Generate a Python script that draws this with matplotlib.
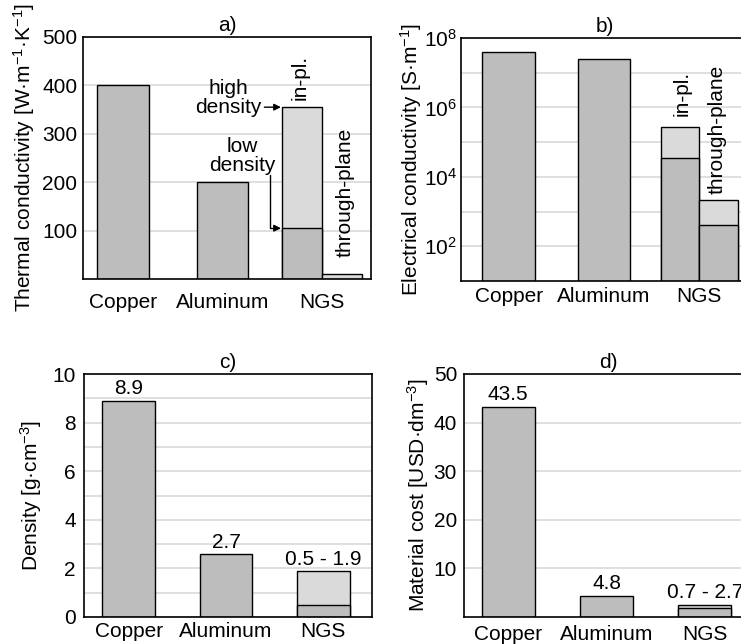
import matplotlib
matplotlib.use("Agg")
import matplotlib.pyplot as plt
from matplotlib.ticker import FixedLocator, NullFormatter

plt.rcParams["font.family"] = ["Liberation Sans", "DejaVu Sans"]
plt.rcParams["font.size"] = 15
plt.rcParams["mathtext.fontset"] = "custom"
plt.rcParams["mathtext.rm"] = "Liberation Sans"
plt.rcParams["mathtext.it"] = "Liberation Sans:italic"
plt.rcParams["mathtext.bf"] = "Liberation Sans:bold"

materials = ["Copper", "Aluminum", "NGS"]

# a) thermal conductivity [W/mK]
thermal_metals = [400, 200]
thermal_inpl = [105, 355]  # low density, high density
thermal_tp = 10

# b) electrical conductivity [S/m]
elec_metals = [4.0e7, 2.5e7]
elec_inpl = [3.6e4, 2.8e5]
elec_tp = [420, 2.1e3]

# c) density [g/cm3]
density_metals = [8.9, 2.6]
density_ngs = [0.5, 1.9]
density_labels = ["8.9", "2.7", "0.5 - 1.9"]

# d) material cost [USD/dm3]
cost_metals = [43.2, 4.4]
cost_ngs = [1.8, 2.4]
cost_labels = ["43.5", "4.8", "0.7 - 2.7"]

DARK = "#bdbdbd"
LIGHT = "#dadada"
GRID = "#d6d6d6"
W, H = 741, 644

fig = plt.figure(figsize=(W / 100, H / 100), dpi=100)


def px_axes(left, right, top, bottom):
    return fig.add_axes([left / W, (H - bottom) / H, (right - left) / W, (bottom - top) / H])


def style(ax, title, xpad, ypad):
    for s in ax.spines.values():
        s.set_linewidth(1.2)
    ax.set_axisbelow(True)
    ax.grid(axis="y", which="both", color=GRID, linewidth=1.1)
    ax.tick_params(axis="both", which="both", length=0)
    ax.tick_params(axis="x", pad=xpad)
    ax.tick_params(axis="y", pad=ypad)
    ax.set_xticks(range(3))
    ax.set_xticklabels(materials)
    ax.set_title(title, fontsize=15, pad=4)


bar_kw = dict(edgecolor="black", linewidth=1.0)
arrow_kw = dict(arrowstyle="-|>", color="black", lw=1.0, mutation_scale=10,
                shrinkA=0, shrinkB=1)

# ---- a) ----
ax = px_axes(83, 371, 37, 279)
w = 0.52
ax.bar([0, 1], thermal_metals, width=w, color=DARK, **bar_kw)
ax.bar(1.8, thermal_inpl[1], width=0.4, color=LIGHT, **bar_kw)
ax.bar(1.8, thermal_inpl[0], width=0.4, color=DARK, **bar_kw)
ax.bar(2.2, thermal_tp, width=0.4, color=LIGHT, **bar_kw)
ax.set_xlim(-0.40, 2.49)
ax.set_ylim(0, 500)
ax.set_yticks([100, 200, 300, 400, 500])
style(ax, "a)", 10, 4)
ax.set_ylabel("Thermal conductivity [W·m$^{-1}$·K$^{-1}$]", labelpad=4)
ax.text(1.78, 370, "in-pl.", rotation=90, ha="center", va="bottom")
ax.text(2.23, 45, "through-plane", rotation=90, ha="center", va="bottom")
ax.text(1.06, 374, "high\ndensity", ha="center", va="center", linespacing=0.95)
ax.annotate("", xy=(1.6, thermal_inpl[1]), xytext=(1.42, thermal_inpl[1]),
            arrowprops=arrow_kw)
ax.text(1.2, 254, "low\ndensity", ha="center", va="center", linespacing=0.95)
ax.annotate("", xy=(1.6, thermal_inpl[0]), xytext=(1.48, 215),
            arrowprops=dict(arrow_kw, connectionstyle="angle,angleA=90,angleB=0,rad=0"))

# ---- b) ----
ax = px_axes(461, 749, 38, 281)
ax.set_yscale("log")
w = 0.55
ax.bar([0, 1], elec_metals, width=w, bottom=1, color=DARK, **bar_kw)
ax.bar(1.8, elec_inpl[1], width=0.4, bottom=1, color=LIGHT, **bar_kw)
ax.bar(1.8, elec_inpl[0], width=0.4, bottom=1, color=DARK, **bar_kw)
ax.bar(2.2, elec_tp[1], width=0.4, bottom=1, color=LIGHT, **bar_kw)
ax.bar(2.2, elec_tp[0], width=0.4, bottom=1, color=DARK, **bar_kw)
ax.set_xlim(-0.50, 2.52)
ax.set_ylim(10, 1e8)
ax.yaxis.set_major_locator(FixedLocator([1e2, 1e4, 1e6, 1e8]))
ax.set_yticklabels(["$10^2$", "$10^4$", "$10^6$", "$10^8$"])
ax.yaxis.set_minor_locator(FixedLocator([1e3, 1e5, 1e7]))
ax.yaxis.set_minor_formatter(NullFormatter())
style(ax, "b)", 4, 3)
ax.set_ylabel("Electrical conductivity [S·m$^{-1}$]", labelpad=0)
ax.text(1.82, 5.6e5, "in-pl.", rotation=90, ha="center", va="bottom")
ax.text(2.19, 3.2e3, "through-plane", rotation=90, ha="center", va="bottom")

# ---- c) ----
ax = px_axes(84, 372, 374, 617)
w = 0.54
ax.bar([0, 1], density_metals, width=w, color=DARK, **bar_kw)
ax.bar(2, density_ngs[1], width=0.55, color=LIGHT, **bar_kw)
ax.bar(2, density_ngs[0], width=0.55, color=DARK, **bar_kw)
ax.set_xlim(-0.46, 2.50)
ax.set_ylim(0, 10)
ax.set_yticks(range(0, 11, 2))
ax.yaxis.set_minor_locator(FixedLocator([1, 3, 5, 7, 9]))
style(ax, "c)", 3.5, 6)
ax.set_ylabel("Density [g·cm$^{-3}$]", labelpad=6)
tops = density_metals + [density_ngs[1]]
for i, (t, lab) in enumerate(zip(tops, density_labels)):
    ax.annotate(lab, (i, t), xytext=(0, 4.5), textcoords="offset points",
                ha="center", va="baseline")

# ---- d) ----
ax = px_axes(464, 752, 374, 617)
ax.bar([0, 1], cost_metals, width=w, color=DARK, **bar_kw)
ax.bar(2, cost_ngs[1], width=0.54, color=LIGHT, **bar_kw)
ax.bar(2, cost_ngs[0], width=0.54, color=DARK, **bar_kw)
ax.set_xlim(-0.45, 2.48)
ax.set_ylim(0, 50)
ax.set_yticks([10, 20, 30, 40, 50])
style(ax, "d)", 5.5, 5)
ax.set_ylabel("Material cost [USD·dm$^{-3}$]", labelpad=2)
tops = cost_metals + [cost_ngs[1]]
for i, (t, lab) in enumerate(zip(tops, cost_labels)):
    ax.annotate(lab, (i, t), xytext=(0, 5), textcoords="offset points",
                ha="center", va="baseline")

fig.savefig("out.png", dpi=100)
